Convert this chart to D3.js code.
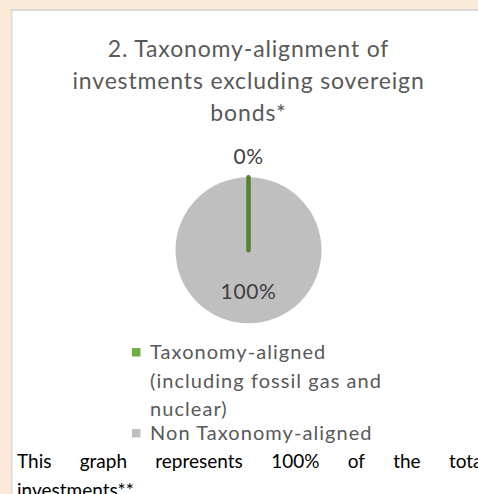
<!DOCTYPE html>
<html>
<head>
<meta charset="utf-8">
<script src="https://cdn.jsdelivr.net/npm/d3@7"></script>
<style>
  html, body { margin: 0; padding: 0; background: #FBE9D8; }
  svg { display: block; }
</style>
</head>
<body>
<svg id="chart" width="478" height="494"></svg>
<script>
const categories = ["Taxonomy-aligned (including fossil gas and nuclear)", "Non Taxonomy-aligned"];
const values = [0, 100];
const valueLabels = ["0%", "100%"];
const titleLines = ["2. Taxonomy-alignment of", "investments excluding sovereign", "bonds*"];
const legendLines = [["Taxonomy-aligned", "(including fossil gas and", "nuclear)"], ["Non Taxonomy-aligned"]];
const footnoteLines = ["This graph represents 100% of the total", "investments**"];
const sliceColors = ["#70AD47", "#BFBFBF"];
const sliceStroke = ["#548235", "none"];

const W = 478, H = 494;
const svg = d3.select("#chart");
const font = "Lato, 'Open Sans', sans-serif";

// background panel
svg.append("rect").attr("x", 0).attr("y", 0).attr("width", W).attr("height", H).attr("fill", "#FBE9D8");
svg.append("rect").attr("x", 11).attr("y", 9).attr("width", W - 11).attr("height", H - 9).attr("fill", "#D9D9D9");
svg.append("rect").attr("x", 12.5).attr("y", 11).attr("width", W - 12.5).attr("height", H - 11).attr("fill", "#FFFFFF");

// title
const cx = 248.5;
svg.append("g").selectAll("text").data(titleLines).join("text")
  .attr("x", cx).attr("y", (d, i) => 57 + i * 32)
  .attr("text-anchor", "middle")
  .attr("font-family", font).attr("font-size", 23).attr("letter-spacing", 0.85)
  .attr("fill", "#595959").text(d => d);

// pie
const cy = 250.3, r = 73;
const pie = d3.pie().sort(null).value(d => d);
const arcs = pie(values);
const arc = d3.arc().innerRadius(0).outerRadius(r);
const g = svg.append("g").attr("transform", `translate(${cx},${cy})`);
const order = arcs.map((a, i) => ({a, i})).sort((p, q) => (q.a.endAngle - q.a.startAngle) - (p.a.endAngle - p.a.startAngle));
g.selectAll("path").data(order).join("path")
  .attr("d", d => arc(d.a))
  .attr("fill", d => sliceColors[d.i])
  .attr("stroke", d => sliceStroke[d.i])
  .attr("stroke-width", 4.5)
  .attr("stroke-linecap", "round")
  .attr("stroke-linejoin", "round");

// value labels
const outerLabelArc = d3.arc().innerRadius(r + 21).outerRadius(r + 21);
const innerLabelArc = d3.arc().innerRadius(r * 0.56).outerRadius(r * 0.56);
g.selectAll("text.val").data(arcs).join("text").attr("class", "val")
  .attr("transform", (d, i) => {
    const c = (d.endAngle - d.startAngle) < 0.2 ? outerLabelArc.centroid(d) : innerLabelArc.centroid(d);
    return `translate(${c[0]},${c[1]})`;
  })
  .attr("text-anchor", "middle").attr("dy", "0.35em")
  .attr("font-family", font).attr("font-size", 21).attr("letter-spacing", 0.6)
  .attr("fill", "#404040").text((d, i) => valueLabels[i]);

// legend
const legendX = 132, legendY = [348, 429];
const lg = svg.append("g");
categories.forEach((c, i) => {
  lg.append("rect").attr("x", legendX).attr("y", legendY[i]).attr("width", 8.5).attr("height", 8.5)
    .attr("fill", sliceColors[i]);
  legendLines[i].forEach((t, j) => {
    lg.append("text").attr("x", legendX + 18).attr("y", legendY[i] + 11 + j * 28.5)
      .attr("font-family", font).attr("font-size", 20).attr("letter-spacing", 1.05)
      .attr("fill", "#595959").text(t);
  });
});

// footnote (justified first line)
const fx0 = 17, fx1 = 487;
const fsize = 19;
footnoteLines.forEach((line, li) => {
  const words = line.split(" ");
  const y = 468 + li * 29;
  if (li === footnoteLines.length - 1) {
    svg.append("text").attr("x", fx0).attr("y", y).attr("font-family", font).attr("font-size", fsize)
      .attr("fill", "#000").text(line);
    return;
  }
  const tmp = words.map(w => svg.append("text").attr("font-family", font).attr("font-size", fsize).text(w));
  const widths = tmp.map(t => t.node().getComputedTextLength());
  tmp.forEach(t => t.remove());
  const total = widths.reduce((a, b) => a + b, 0);
  const gap = (fx1 - fx0 - total) / (words.length - 1);
  let x = fx0;
  words.forEach((w, k) => {
    svg.append("text").attr("x", x).attr("y", y).attr("font-family", font).attr("font-size", fsize)
      .attr("fill", "#000").text(w);
    x += widths[k] + gap;
  });
});
</script>
</body>
</html>
